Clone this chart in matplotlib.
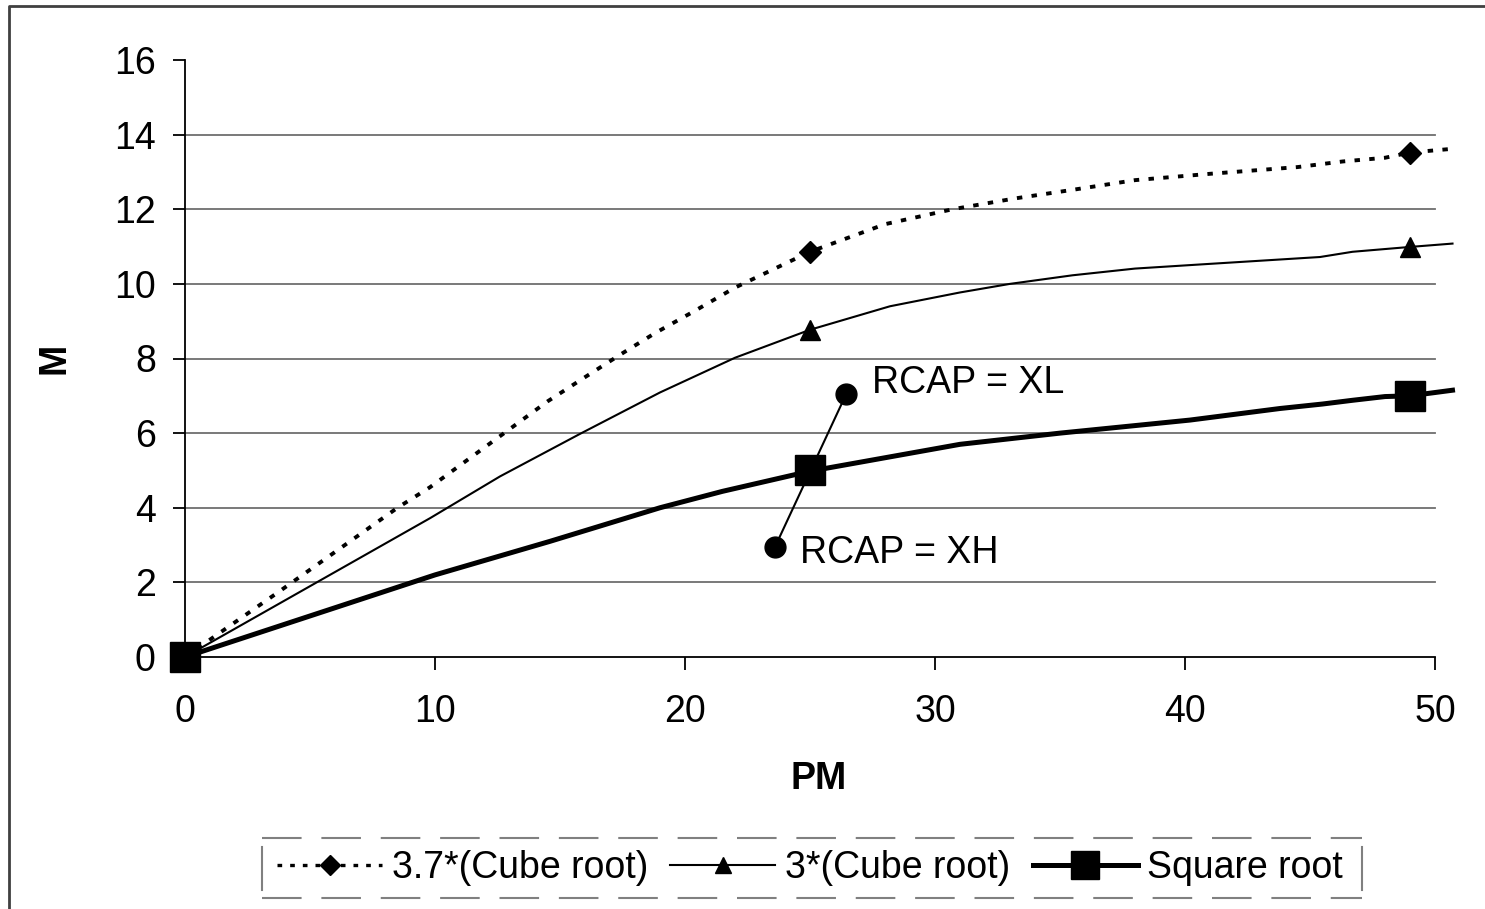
import matplotlib
matplotlib.use("Agg")
import matplotlib.pyplot as plt
from matplotlib.lines import Line2D

plt.rcParams["font.family"] = ["Liberation Sans", "DejaVu Sans"]

# 3.7*(Cube root) curve
pm_37 = [0, 3.8, 8.5, 9.8, 12.5, 14.5, 16, 17.4, 18.8, 20.4, 22, 25, 28, 30.7,
         33.2, 35.5, 38, 41, 44.5, 46.3, 48, 49, 50.7]
m_37 = [0, 1.77, 4.0, 4.55, 5.87, 6.85, 7.5, 8.1, 8.68, 9.28, 9.9, 10.86, 11.6, 12.0,
        12.29, 12.52, 12.78, 12.95, 13.13, 13.28, 13.38, 13.52, 13.62]
# 3*(Cube root) curve
pm_3 = [0, 9.8, 12.6, 15.8, 19, 22, 25, 28.2, 31, 33, 35.5, 38, 40.6, 45.4, 46.7, 49, 50.7]
m_3 = [0, 3.72, 4.84, 5.98, 7.09, 8.02, 8.77, 9.4, 9.77, 10.0, 10.23, 10.41, 10.52,
       10.72, 10.86, 10.99, 11.08]
# Square root curve
pm_sq = [0, 10, 14.6, 19, 21.5, 25, 31, 35, 40.2, 43.8, 45.5, 46.7, 48, 49, 50.7]
m_sq = [0, 2.2, 3.1, 4.0, 4.44, 4.98, 5.7, 6.0, 6.35, 6.66, 6.78, 6.88, 6.98, 7.0, 7.15]

# marker points
mk_x = [0, 25, 49]
mk_37 = [0, 10.86, 13.52]
mk_3 = [0, 8.77, 10.99]
mk_sq = [0, 5.0, 7.0]

# RCAP bar through the square-root point at 25
rcap_x = [23.6, 26.45]
rcap_y = [2.95, 7.05]
rcap_labels = ["RCAP = XH", "RCAP = XL"]

labels = ["3.7*(Cube root)", "3*(Cube root)", "Square root"]

W, H = 1485, 909
fig = plt.figure(figsize=(W / 100, H / 100), dpi=100)
x0, x1, y0, y1 = 185, 1452.5, 657, 60
ax = fig.add_axes([x0 / W, 1 - y0 / H, (x1 - x0) / W, (y0 - y1) / H])
ax.set_xlim(0, 50.7)
ax.set_ylim(0, 16)

for yv in range(2, 16, 2):
    ax.plot([0, 50], [yv, yv], color="#6e6e6e", lw=1.3, zorder=1)

ax.plot(pm_37, m_37, color="black", lw=2.8, dashes=(1.4, 2.4), clip_on=False, zorder=3)
ax.plot(mk_x, mk_37, ls="none", marker="D", ms=11, color="black", clip_on=False, zorder=4)
ax.plot(pm_3, m_3, color="black", lw=1.5, clip_on=False, zorder=3)
ax.plot(mk_x, mk_3, ls="none", marker="^", ms=14, color="black", clip_on=False, zorder=4)
ax.plot(pm_sq, m_sq, color="black", lw=3.6, clip_on=False, zorder=3)
ax.plot(mk_x, mk_sq, ls="none", marker="s", ms=21, color="black", clip_on=False, zorder=4)

ax.plot(rcap_x, rcap_y, color="black", lw=1.5, marker="o", ms=15, zorder=5)
ax.text(24.6, 2.78, rcap_labels[0], fontsize=27, va="center", ha="left")
ax.text(27.5, 7.35, rcap_labels[1], fontsize=27, va="center", ha="left")

for s in ["top", "right"]:
    ax.spines[s].set_visible(False)
ax.spines["bottom"].set_bounds(0, 50)
ax.spines["left"].set_linewidth(1.3)
ax.spines["bottom"].set_linewidth(1.3)
ax.set_xticks(range(0, 51, 10))
ax.set_yticks(range(0, 17, 2))
ax.tick_params(axis="both", labelsize=27, length=9, width=1.3, direction="out")
ax.tick_params(axis="y", pad=12)
ax.tick_params(axis="x", pad=18)

ax.set_xlabel("PM", fontsize=27, fontweight="bold", labelpad=22)
ax.set_ylabel("M", fontsize=27, fontweight="bold", labelpad=30)

h37 = Line2D([], [], color="black", lw=2.4, dashes=(1.4, 2.4), marker="D", ms=10)
h3 = Line2D([], [], color="black", lw=1.5, marker="^", ms=12)
hsq = Line2D([], [], color="black", lw=3.6, marker="s", ms=20)
fig.legend([h37, h3, hsq], labels, loc="center", bbox_to_anchor=(810 / W, 1 - 868 / H),
           ncol=3, frameon=False, fontsize=27, handlelength=2.8, handletextpad=0.25,
           columnspacing=0.6)

# legend frame: dashed top/bottom, solid short sides
lx0, lx1, ly0, ly1 = 262 / W, 1362 / W, 1 - 838 / H, 1 - 898 / H
fig.add_artist(Line2D([lx0, lx1], [ly0, ly0], color="#808080", lw=1.5, dashes=(19, 9.5)))
fig.add_artist(Line2D([lx0, lx1], [ly1, ly1], color="#808080", lw=1.5, dashes=(19, 9.5)))
fig.add_artist(Line2D([lx0, lx0], [1 - 847 / H, 1 - 890 / H], color="#808080", lw=1.5))
fig.add_artist(Line2D([lx1, lx1], [1 - 847 / H, 1 - 890 / H], color="#808080", lw=1.5))

# outer chart border (top and left visible)
fig.add_artist(Line2D([8.5 / W, 8.5 / W, 1.0], [0.0, 1 - 5.5 / H, 1 - 5.5 / H],
                      color="#404040", lw=2))

fig.savefig("out.png", dpi=100, facecolor="white")
